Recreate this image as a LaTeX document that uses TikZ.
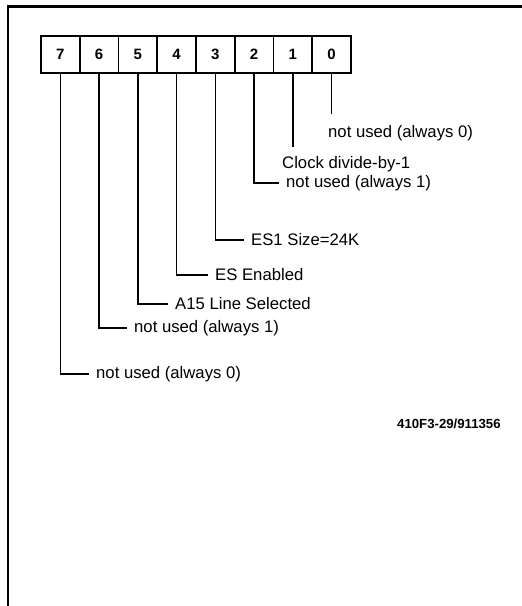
\documentclass[tikz,border=0pt]{standalone}
\usepackage{fontspec}
\setmainfont{Liberation Sans}
\usepackage{tikz}
\usetikzlibrary{positioning}

\begin{document}
\begin{tikzpicture}[
  x=1pt, y=-1pt,
  font=\fontsize{16.7}{19}\selectfont,
  bitbox/.style={rectangle, draw, line width=1.7pt, minimum width=38.75pt, minimum height=37pt,
    inner sep=0pt, outer sep=0pt, font=\fontsize{15}{18}\selectfont\bfseries},
  lbl/.style={anchor=west, inner sep=2pt},
  lead/.style={line width=1.5pt, shorten >=5pt},
  frame/.style={line width=2.2pt}
]
  \useasboundingbox (0,0) rectangle (522,606);
  \draw[frame] (8,606) -- (8,6.5) -- (522,6.5);

  % register bits
  \node[bitbox] (b7) at (60.4,54.5) {7};
  \foreach \b/\p in {6/7,5/6,4/5,3/4,2/3,1/2,0/1} {
    \node[bitbox, right=0pt of b\p] (b\b) {\b};
  }

  % bit descriptions
  \node[lbl] (l0) at (326,133) {not used (always 0)};
  \node[lbl] (l1) at (280,164) {Clock divide-by-1};
  \node[lbl] (l2) at (284,183) {not used (always 1)};
  \node[lbl] (l3) at (249,240) {ES1 Size=24K};
  \node[lbl] (l4) at (213,275) {ES Enabled};
  \node[lbl] (l5) at (173,304) {A15 Line Selected};
  \node[lbl] (l6) at (132,328) {not used (always 1)};
  \node[lbl] (l7) at (94,374) {not used (always 0)};

  \draw[lead, shorten >=9pt] (b0.south) -- (b0.south |- l0.north);
  \draw[lead, shorten >=7pt] (b1.south) -- (b1.south |- l1.north);
  \foreach \i in {2,...,7} {
    \draw[lead] (b\i.south) |- (l\i.west);
  }

  \node[anchor=west, inner sep=0pt, font=\fontsize{13.2}{15}\selectfont\bfseries] (figno) at (397,424) {410F3-29/911356};
\end{tikzpicture}
\end{document}
